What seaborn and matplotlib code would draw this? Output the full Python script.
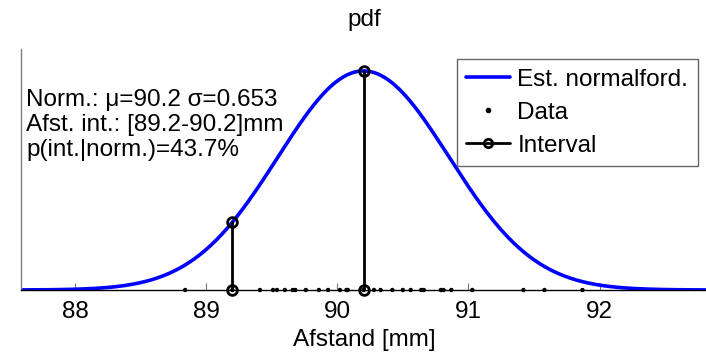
import numpy as np
import pandas as pd
import matplotlib
matplotlib.use("Agg")
import matplotlib.pyplot as plt
import seaborn as sns
from matplotlib.lines import Line2D

# ---- data ----
mu = 90.2
sigma = 0.653
interval = [89.2, 90.2]
p_int = 43.7
data_x = [88.84, 89.2, 89.41, 89.51, 89.54, 89.60, 89.66, 89.68, 89.76, 89.86,
          89.93, 90.02, 90.07, 90.08, 90.2, 90.28, 90.33, 90.42, 90.50, 90.56,
          90.64, 90.66, 90.79, 90.81, 90.87, 91.03, 91.42, 91.58, 91.87]
xticks = [88, 89, 90, 91, 92]

sns.set_theme(style="ticks")
plt.rcParams['font.family'] = ['Liberation Sans', 'DejaVu Sans']
plt.rcParams['text.color'] = 'black'
plt.rcParams['xtick.labelcolor'] = 'black'
FS = 17.5

def npdf(x):
    x = np.asarray(x, dtype=float)
    return np.exp(-0.5 * ((x - mu) / sigma) ** 2) / (sigma * np.sqrt(2 * np.pi))

W, H = 706, 354
fig = plt.figure(figsize=(W / 100, H / 100), dpi=100)
ax = fig.add_axes([21 / W, 1 - 290 / H, 1 - 21 / W, (290 - 49) / H])

xs = np.linspace(mu - 4 * sigma, mu + 4 * sigma, 400)
curve = pd.DataFrame({"x": xs, "pdf": npdf(xs)})
sns.lineplot(data=curve, x="x", y="pdf", ax=ax, color=(0, 0, 1), lw=2.6, zorder=2)

dpts = pd.DataFrame({"x": data_x, "y": np.zeros(len(data_x))})
sns.scatterplot(data=dpts, x="x", y="y", ax=ax, color="black", s=10, marker="o",
                edgecolor="none", zorder=4, clip_on=False)

for xi in interval:
    yi = float(npdf(xi))
    ax.plot([xi, xi], [0, yi], color="black", lw=2, marker="o", ms=7,
            mfc="none", mec="black", mew=2, zorder=5, clip_on=False)

ax.set_xlim(mu - 4 * sigma, mu + 4 * sigma)
ax.set_ylim(0, 1.1 * float(npdf(mu)))
ax.set_xticks(xticks)
ax.set_xticklabels([str(t) for t in xticks], fontsize=FS, color="black")
ax.set_yticks([])
ax.tick_params(axis="x", direction="in", length=5, width=0.8, color="0.45", pad=8,
               labelcolor="black")
ax.set_xlabel("")
ax.set_ylabel("")
for s in ["top", "right"]:
    ax.spines[s].set_visible(False)
ax.spines["left"].set_color("0.5")
ax.spines["left"].set_linewidth(1)
ax.spines["bottom"].set_color("black")
ax.spines["bottom"].set_linewidth(1)

txt = (f"Norm.: \u03bc={mu} \u03c3={sigma}\n"
       f"Afst. int.: [{interval[0]}-{interval[1]}]mm\n"
       f"p(int.|norm.)={p_int}%")
ax.text(5 / (W - 21), (290 - 125) / 241, txt, transform=ax.transAxes, fontsize=FS,
        va="center", ha="left", linespacing=1.17, color="black")

fig.text(364 / W, 1 - 20 / H, "pdf", ha="center", va="center", fontsize=FS,
         color="black")
fig.text(364 / W, 1 - 340 / H, "Afstand [mm]", ha="center", va="center",
         fontsize=FS, color="black")

handles = [
    Line2D([], [], color=(0, 0, 1), lw=2.6),
    Line2D([], [], color="black", lw=0, marker="o", ms=3),
    Line2D([], [], color="black", lw=2, marker="o", ms=6, mfc="none", mew=2,
           markevery=[1]),
]
leg = fig.legend(handles, ["Est. normalford.", "Data", "Interval"],
                 loc="upper right", bbox_to_anchor=(698 / W, 1 - 59 / H),
                 fontsize=FS, frameon=True, fancybox=False, framealpha=1,
                 edgecolor="0.4", borderpad=0.4, labelspacing=0.45,
                 handlelength=1.8, handletextpad=0.3, borderaxespad=0,
                 labelcolor="black")
leg.get_frame().set_linewidth(1)

fig.savefig("out.png", dpi=100, facecolor="white")
